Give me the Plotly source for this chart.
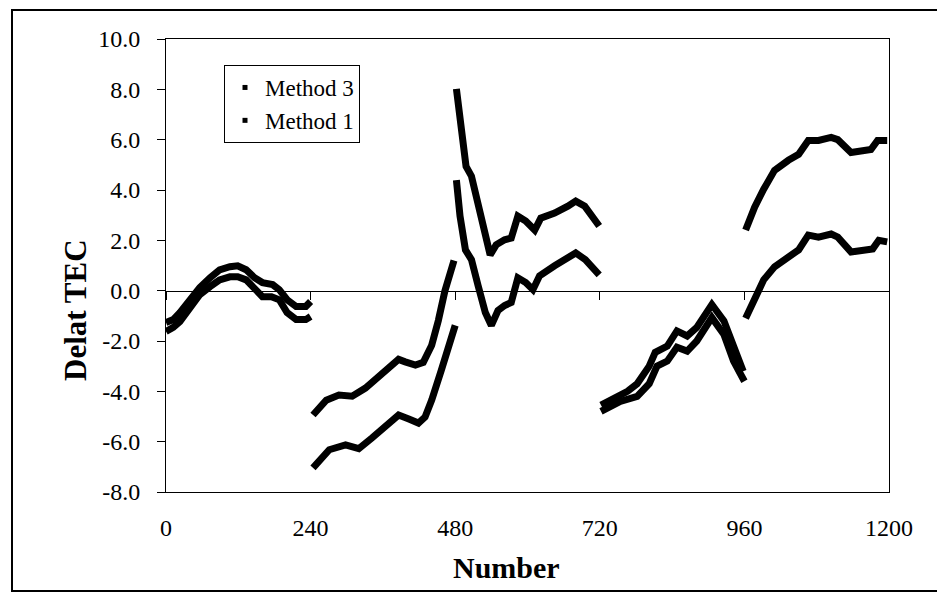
import plotly.graph_objects as go

# ---------------- data ----------------
# Method 3 (upper curve in each block); None separates the blocks
number_m3 = [0, 12, 23, 40, 56, 73, 89, 106, 119, 133, 147, 160, 177, 188, 201, 216, 232, 240, None,
             244, 266, 287, 309, 331, 353, 370, 386, 397, 414, 427, 441, 452, 463, 478, None,
             482, 488, 493, 498, 507, 518, 530, 538, 548, 562, 573, 584, 597, 612, 622, 645, 667, 680, 695, 719, None,
             722, 744, 766, 782, 802, 812, 832, 848, 865, 881, 906, 926, 942, 958, None,
             962, 977, 992, 1010, 1033, 1050, 1066, 1083, 1104, 1115, 1137, 1158, 1170, 1181, 1197]
tec_m3 = [-1.26, -1.15, -0.87, -0.36, 0.12, 0.51, 0.83, 0.95, 0.99, 0.83, 0.51, 0.32, 0.24, 0.04, -0.36, -0.63, -0.63, -0.43, None,
          -4.94, -4.35, -4.15, -4.19, -3.87, -3.43, -3.04, -2.73, -2.83, -2.96, -2.85, -2.17, -1.19, 0.0, 1.2, None,
          8.02, 6.64, 5.45, 4.94, 4.55, 3.36, 2.02, 1.42, 1.82, 2.02, 2.09, 2.96, 2.77, 2.41, 2.88, 3.08, 3.36, 3.56, 3.36, 2.57, None,
          -4.55, -4.3, -4.0, -3.7, -3.0, -2.45, -2.2, -1.6, -1.8, -1.46, -0.55, -1.2, -2.25, -3.2, None,
          2.41, 3.32, 4.03, 4.78, 5.18, 5.42, 5.97, 5.97, 6.09, 6.0, 5.49, 5.57, 5.61, 5.97, 5.97]

# Method 1 (lower curve in each block)
number_m1 = [0, 12, 23, 40, 56, 73, 89, 106, 119, 133, 147, 160, 175, 188, 201, 216, 232, 240, None,
             244, 271, 298, 320, 342, 364, 386, 403, 419, 430, 441, 457, 469, 480, None,
             482, 488, 497, 507, 518, 530, 540, 551, 562, 573, 584, 597, 609, 620, 645, 667, 680, 696, 719, None,
             722, 754, 782, 802, 815, 832, 848, 865, 881, 906, 926, 942, 960, None,
             962, 977, 992, 1010, 1033, 1050, 1066, 1083, 1104, 1115, 1137, 1158, 1173, 1183, 1197]
tec_m1 = [-1.62, -1.46, -1.23, -0.67, -0.16, 0.16, 0.43, 0.55, 0.55, 0.43, 0.12, -0.24, -0.24, -0.36, -0.87, -1.15, -1.15, -1.03, None,
          -7.04, -6.32, -6.13, -6.28, -5.85, -5.41, -4.94, -5.1, -5.26, -5.02, -4.35, -3.16, -2.25, -1.38, None,
          4.39, 2.96, 1.62, 1.23, 0.2, -0.87, -1.38, -0.79, -0.59, -0.47, 0.51, 0.32, 0.04, 0.59, 0.99, 1.3, 1.5, 1.23, 0.63, None,
          -4.8, -4.4, -4.2, -3.7, -3.0, -2.8, -2.25, -2.4, -2.0, -1.07, -1.74, -2.8, -3.6, None,
          -1.1, -0.36, 0.43, 0.95, 1.34, 1.62, 2.21, 2.13, 2.25, 2.13, 1.54, 1.62, 1.66, 2.0, 1.94]

series_names = ["Method 3", "Method 1"]
x_ticks = [0, 240, 480, 720, 960, 1200]
x_tick_labels = ["0", "240", "480", "720", "960", "1200"]
y_ticks = [-8, -6, -4, -2, 0, 2, 4, 6, 8, 10]
y_tick_labels = ["-8.0", "-6.0", "-4.0", "-2.0", "0.0", "2.0", "4.0", "6.0", "8.0", "10.0"]

# ---------------- layout geometry ----------------
W, H = 937, 597
ML, MR, MT, MB = 166, 48, 39, 105
PW, PH = W - ML - MR, H - MT - MB


def px_x(px):
    return (px - ML) / PW


def px_y(py):
    return (H - MB - py) / PH


FONT = "Liberation Serif, Times New Roman, serif"

fig = go.Figure()
fig.add_trace(go.Scatter(x=number_m3, y=tec_m3, mode="lines", name=series_names[0],
                         line=dict(color="black", width=7), showlegend=False, connectgaps=False))
fig.add_trace(go.Scatter(x=number_m1, y=tec_m1, mode="lines", name=series_names[1],
                         line=dict(color="black", width=7), showlegend=False, connectgaps=False))
# legend entries (small square markers, as in the reference)
for i, nm in enumerate(series_names):
    fig.add_trace(go.Scatter(x=[None], y=[None], mode="markers", name=nm, xaxis="x2",
                             legendgroup=nm,
                             marker=dict(symbol="square", size=5, color="black")))

fig.update_layout(
    width=W, height=H,
    margin=dict(l=ML, r=MR, t=MT, b=MB),
    paper_bgcolor="white", plot_bgcolor="white",
    font=dict(family=FONT, color="black", size=23),
    showlegend=True,
    legend=dict(x=px_x(224), y=px_y(65), xanchor="left", yanchor="top",
                bordercolor="black", borderwidth=1, bgcolor="white",
                font=dict(family=FONT, size=23, color="black"),
                itemwidth=30, tracegroupgap=8, traceorder="normal"),
    xaxis=dict(range=[0, 1200], tickvals=x_ticks, ticktext=x_tick_labels,
               showline=True, linecolor="black", linewidth=1, mirror=True,
               ticks="", showgrid=False, zeroline=False,
               tickfont=dict(family=FONT, size=24, color="black"),
               ticklabelstandoff=14),
    xaxis2=dict(range=[0, 1200], overlaying="x", anchor="free",
                position=8 / 18, side="bottom",
                tickvals=x_ticks, showticklabels=False,
                showline=True, linecolor="black", linewidth=1,
                ticks="outside", ticklen=8, tickcolor="black",
                showgrid=False, zeroline=False),
    yaxis=dict(range=[-8, 10], tickvals=y_ticks, ticktext=y_tick_labels,
               showline=True, linecolor="black", linewidth=1, mirror=True,
               ticks="outside", ticklen=8, tickcolor="black",
               showgrid=False, zeroline=False,
               tickfont=dict(family=FONT, size=24, color="black"),
               ticklabelstandoff=12),
    annotations=[
        dict(text="Delat TEC", x=px_x(75), y=px_y(310), xref="paper", yref="paper",
             showarrow=False, textangle=-90, xanchor="center", yanchor="middle",
             font=dict(family=FONT, size=31, color="black", weight="bold")),
        dict(text="Number", x=px_x(506), y=px_y(567), xref="paper", yref="paper",
             showarrow=False, xanchor="center", yanchor="middle",
             font=dict(family=FONT, size=30, color="black", weight="bold")),
    ],
    shapes=[
        dict(type="rect", xref="paper", yref="paper",
             x0=px_x(12), x1=px_x(945), y0=px_y(591), y1=px_y(10),
             line=dict(color="black", width=2), fillcolor="rgba(0,0,0,0)", layer="below"),
    ],
)

fig.write_html("out.html",
               config={"displayModeBar": False},
               post_script="document.body.style.margin='0px';document.body.style.padding='0px';")
